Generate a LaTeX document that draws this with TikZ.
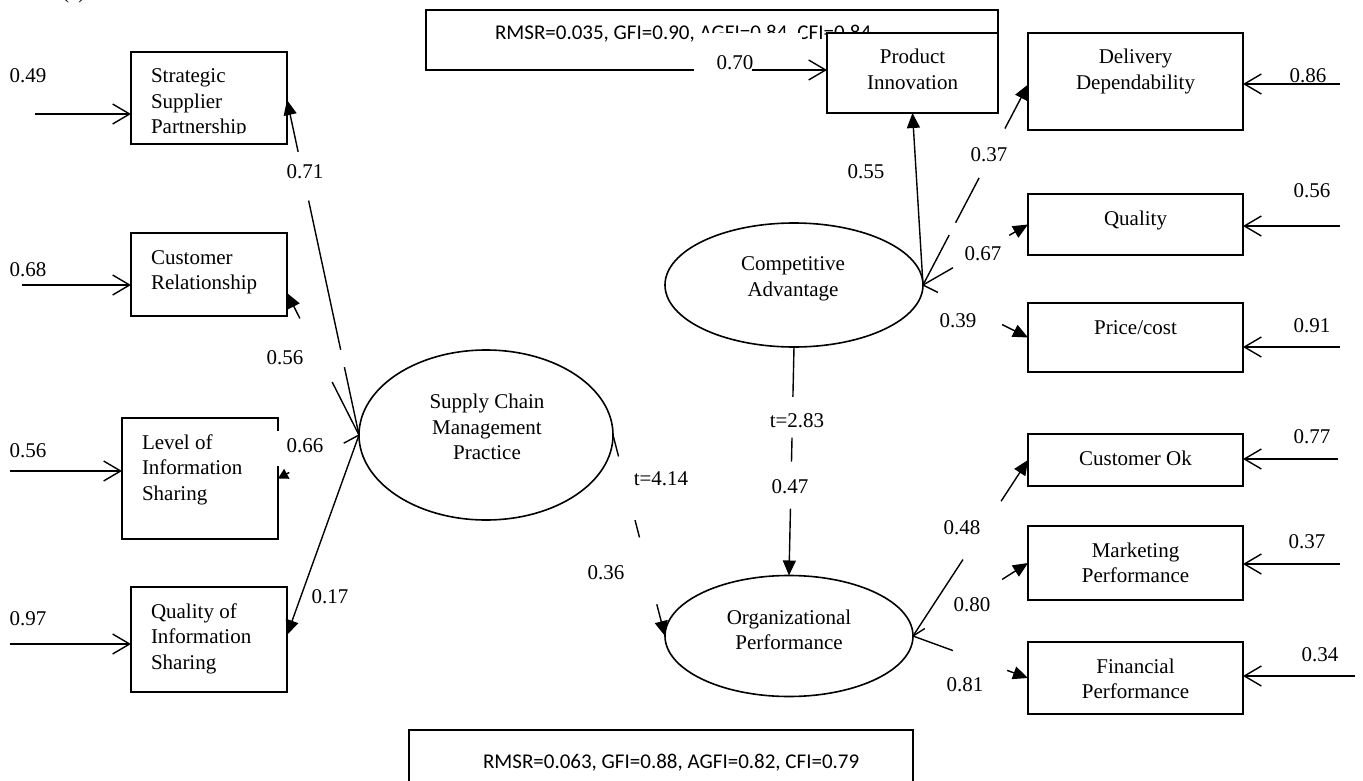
\documentclass[tikz,border=0pt]{standalone}
\usepackage{fontspec}
\setmainfont{Liberation Serif}
\newfontfamily\calibfont{Carlito}
\usetikzlibrary{shapes.geometric,arrows.meta,calc}
\newcommand\lbox[3]{\parbox[c][#2][t]{#1}{\raggedright\leftskip=20pt\relax\rule{0pt}{31pt}#3}}
\newcommand\cbox[3]{\parbox[c][#2][t]{#1}{\centering\rule{0pt}{31pt}#3}}
\newcommand\gapcut[4]{\draw[maskline] ($(#1)!#3!(#2)$) -- ($(#1)!#4!(#2)$);}
\begin{document}
\begin{tikzpicture}[x=1pt,y=-1pt,
  every node/.style={outer sep=0pt},
  font=\fontsize{21}{25.5}\selectfont,
  box/.style={draw, line width=1.8pt, fill=white, inner sep=0pt},
  lat/.style={draw, ellipse, line width=1.6pt, inner sep=0pt},
  lbl/.style={inner sep=0pt},
  fitbox/.style={draw, line width=1.3pt, inner sep=0pt},
  fittext/.style={inner sep=0pt, anchor=base west, font=\calibfont\fontsize{21}{25}\selectfont},
  err/.style={line width=1.4pt, -{Straight Barb[length=17pt,width=20pt]}},
  ld/.style={line width=1.4pt, -{Triangle[length=15pt,width=13pt]}},
  ldsmall/.style={line width=1.4pt, -{Triangle[length=10pt,width=11pt]}},
  maskline/.style={white, line width=7pt},
]
\useasboundingbox (0,0) rectangle (1363,781);

% panel tag, cut by the top edge as in the source figure
\node[lbl, anchor=base west] (tag) at (62,-1.5) {(a)};

% fit index boxes
\node[fitbox, minimum width=572pt, minimum height=60pt] (fit1) at (712,40) {};
\node[fittext] (fit1t) at (495,40) {RMSR=0.035, GFI=0.90, AGFI=0.84, CFI=0.84};
\fill[white] (694,33) rectangle (802,73);
\node[fitbox, minimum width=504pt, minimum height=60pt] (fit2) at (661,760) {};
\node[fittext] (fit2t) at (483,768) {RMSR=0.063, GFI=0.88, AGFI=0.82, CFI=0.79};

% observed variables (left)
\node[box] (SSP) at (209,98) {\lbox{156pt}{92pt}{Strategic\\Supplier\\Partnership}};
\node[box] (CR) at (209,274.5) {\lbox{156pt}{83pt}{Customer\\Relationship}};
\node[box] (LIS) at (200,478.5) {\lbox{156pt}{121pt}{Level of\\Information\\Sharing}};
\node[box] (QIS) at (209,639.5) {\lbox{156pt}{105pt}{Quality of\\Information\\Sharing}};

% observed variables (right)
\node[box] (PI) at (912.5,73) {\cbox{171pt}{80pt}{Product\\Innovation}};
\node[box] (DD) at (1135.5,81.5) {\cbox{215pt}{97pt}{Delivery\\Dependability}};
\node[box] (QU) at (1135.5,224.5) {\cbox{215pt}{61pt}{Quality}};
\node[box] (PC) at (1135.5,337.5) {\cbox{215pt}{69pt}{Price/cost}};
\node[box] (CO) at (1135.5,460) {\cbox{215pt}{52pt}{Customer Ok}};
\node[box] (MP) at (1135.5,563) {\cbox{215pt}{74pt}{Marketing\\Performance}};
\node[box] (FP) at (1135.5,678) {\cbox{215pt}{72pt}{Financial\\Performance}};

% latent variables
\node[lat, minimum width=254pt, minimum height=170pt] (SCM) at (486,435) {};
\node[lbl, align=center] (SCMt) at (487,427) {Supply Chain\\Management\\Practice};
\node[lat, minimum width=258pt, minimum height=124pt] (CA) at (794,285) {};
\node[lbl, align=center] (CAt) at (793,279) {Competitive\\Advantage};
\node[lat, minimum width=248pt, minimum height=121pt] (OP) at (789,636) {};
\node[lbl, align=center] (OPt) at (789,630) {Organizational\\Performance};

% connector end points
\coordinate (tSSP) at ($(SSP.east)+(0,2)$);
\coordinate (tCR) at ($(CR.east)+(0,18.5)$);
\coordinate (tQIS) at ($(QIS.east)+(0,-4.5)$);
\coordinate (tDD) at ($(DD.west)+(0,3)$);
\coordinate (tPI) at ($(PI.west)+(0,-3)$);

% error terms
\coordinate (eSSP) at (35,114);
\coordinate (eCR) at (22,285);
\coordinate (eLIS) at (10,471);
\coordinate (eQIS) at (10,644);
\coordinate (ePI) at (752,70);
\coordinate (eDD) at (1340,84);
\coordinate (eQU) at (1340,226);
\coordinate (ePC) at (1340,347);
\coordinate (eCO) at (1338,459);
\coordinate (eMP) at (1340,564);
\coordinate (eFP) at (1355,676);
\draw[err] (eSSP) -- ($(SSP.west)+(0,16)$);
\draw[err] (eCR) -- ($(CR.west)+(0,10.5)$);
\draw[err] (eLIS) -- ($(LIS.west)+(0,-7.5)$);
\draw[err] (eQIS) -- ($(QIS.west)+(0,4.5)$);
\draw[err] (ePI) -- (tPI);
\draw[err] (eDD) -- ($(DD.east)+(0,2.5)$);
\draw[err] (eQU) -- ($(QU.east)+(0,1.5)$);
\draw[err] (ePC) -- ($(PC.east)+(0,9.5)$);
\draw[err] (eCO) -- ($(CO.east)+(0,-1)$);
\draw[err] (eMP) -- ($(MP.east)+(0,1)$);
\draw[err] (eFP) -- ($(FP.east)+(0,-2)$);

% loadings
\draw[ld] (SCM.west) -- (tSSP);
\draw[ld] (SCM.west) -- (tCR);
\draw[ldsmall] (SCM.west) -- (LIS.east);
\draw[ld] (SCM.west) -- (tQIS);
\draw[ld] (SCM.east) -- (OP.west);
\draw[ld] (CA.south) -- (OP.north);
\draw[ld] (CA.east) -- (PI.south);
\draw[ld] (CA.east) -- (tDD);
\draw[ld] (CA.east) -- (QU.west);
\draw[ld] (CA.east) -- (PC.west);
\draw[ld] (OP.east) -- (CO.west);
\draw[ld] (OP.east) -- (MP.west);
\draw[ld] (OP.east) -- (FP.west);

% gaps left by the label boxes
\gapcut{SCM.west}{tSSP}{0.203}{0.254}
\gapcut{SCM.west}{tSSP}{0.70}{0.845}
\gapcut{SCM.west}{tCR}{0.374}{0.82}
\gapcut{SCM.west}{LIS.east}{0.19}{0.86}
\gapcut{SCM.east}{OP.west}{0.107}{0.423}
\gapcut{SCM.east}{OP.west}{0.51}{0.842}
\gapcut{CA.south}{OP.north}{0.218}{0.397}
\gapcut{CA.south}{OP.north}{0.502}{0.707}
\gapcut{CA.east}{tDD}{0.25}{0.31}
\gapcut{CA.east}{tDD}{0.535}{0.78}
\gapcut{CA.east}{QU.west}{0.286}{0.82}
\gapcut{CA.east}{PC.west}{0.143}{0.752}
\gapcut{OP.east}{CO.west}{0.435}{0.765}
\gapcut{OP.east}{MP.west}{0.104}{0.774}
\gapcut{OP.east}{FP.west}{0.348}{0.817}
\fill[white] (273.5,431) rectangle (283,466);
\fill[white] (136,134.5) rectangle (282,142.5);
\fill[white] (5,275) rectangle (60,282);
\fill[white] (1280,546.5) rectangle (1335,558);
\fill[white] (765,425.5) rectangle (830,437);

% labels
\node[lbl] (l49) at (28,76) {0.49};
\node[lbl] (l68) at (28,270) {0.68};
\node[lbl] (l56a) at (28,451) {0.56};
\node[lbl] (l97) at (28,619) {0.97};
\node[lbl] (l71) at (305,172) {0.71};
\node[lbl] (l56b) at (285,358) {0.56};
\node[lbl] (l66) at (305,446) {0.66};
\node[lbl] (l17) at (330,597) {0.17};
\node[lbl] (t414) at (661,479) {t=4.14};
\node[lbl] (l36) at (606,573) {0.36};
\node[lbl] (t283) at (797,421) {t=2.83};
\node[lbl] (l47) at (790,487) {0.47};
\node[lbl] (l70) at (735,63) {0.70};
\node[lbl] (l55) at (866,172) {0.55};
\node[lbl] (l37a) at (989,155) {0.37};
\node[lbl] (l67) at (983,254) {0.67};
\node[lbl] (l39) at (958,321) {0.39};
\node[lbl] (l48) at (962,528) {0.48};
\node[lbl] (l80) at (972,605) {0.80};
\node[lbl] (l81) at (965,685) {0.81};
\node[lbl] (l86) at (1308,76) {0.86};
\node[lbl] (l56c) at (1312,191) {0.56};
\node[lbl] (l91) at (1312,326) {0.91};
\node[lbl] (l77) at (1312,437) {0.77};
\node[lbl] (l37b) at (1307,542) {0.37};
\node[lbl] (l34) at (1320,655) {0.34};
\end{tikzpicture}
\end{document}
